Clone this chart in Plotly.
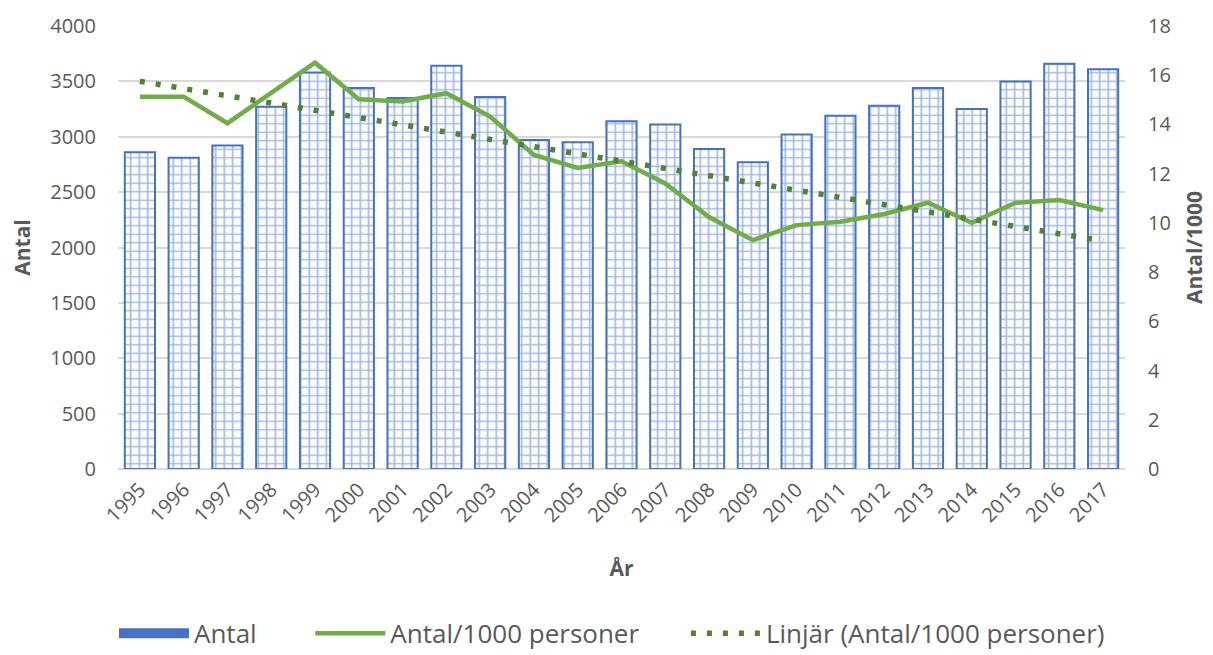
import numpy as np
import plotly.graph_objects as go

years = [str(y) for y in range(1995, 2018)]
antal = [2860, 2810, 2920, 3270, 3580, 3440, 3350, 3640, 3360, 2970, 2950, 3140,
         3110, 2890, 2770, 3020, 3190, 3280, 3440, 3250, 3500, 3660, 3610]
per1000 = [15.13, 15.13, 14.05, 15.3, 16.51, 15.02, 14.93, 15.27, 14.32, 12.76, 12.23, 12.5,
           11.6, 10.24, 9.3, 9.91, 10.05, 10.36, 10.82, 10.0, 10.82, 10.93, 10.52]

# Linear trendline (least squares), as in the original chart
xi = np.arange(1, len(per1000) + 1)
k, m = np.polyfit(xi, per1000, 1)
trend = (k * xi + m).tolist()

FONT = "Open Sans"
GREY = "#595959"
BLUE = "#4472C4"
GREEN = "#70AD47"
DKGREEN = "#548235"

fig = go.Figure()
fig.add_trace(go.Bar(
    x=years, y=antal, name="Antal", legendgroup="antal", showlegend=False,
    marker=dict(color="white", line=dict(color=BLUE, width=2),
                pattern=dict(shape="+", fgcolor=BLUE, bgcolor="white", size=8.5, solidity=0.35)),
))
# legend key for the bars (wide blue block, like the original's legend swatch)
fig.add_trace(go.Scatter(
    x=[None], y=[None], name="Antal", legendgroup="antal", legend="legend", mode="lines",
    line=dict(color=BLUE, width=13), hoverinfo="skip",
))
fig.add_trace(go.Scatter(
    x=years, y=per1000, name="Antal/1000 personer", yaxis="y2", mode="lines", legend="legend2",
    line=dict(color=GREEN, width=4.5),
))
fig.add_trace(go.Scatter(
    x=years, y=trend, name="Linjär (Antal/1000 personer)", yaxis="y2", mode="lines",
    legend="legend3",
    line=dict(color=DKGREEN, width=5.5, dash="5px,11px"),
))

LEG = dict(orientation="h", y=-0.318, yanchor="top", xanchor="left",
           font=dict(size=26, color=GREY), itemwidth=70, bgcolor="rgba(0,0,0,0)")

fig.update_layout(
    width=1203, height=645,
    margin=dict(l=110, r=86, t=18, b=184, autoexpand=False),
    paper_bgcolor="white", plot_bgcolor="white",
    font=dict(family=FONT, color=GREY, size=20),
    bargap=0.31,
    showlegend=True,
    legend=dict(LEG, x=-0.004),
    legend2=dict(LEG, x=0.191),
    legend3=dict(LEG, x=0.564),
    xaxis=dict(
        tickangle=-45, showgrid=False, showline=False, ticks="", automargin=False,
        tickfont=dict(size=20, color=GREY), ticklabelstandoff=4,
        title=dict(text="<b>År</b>", font=dict(size=21, color=GREY), standoff=34),
    ),
    yaxis=dict(
        range=[0, 4000], dtick=500, showgrid=True, gridcolor="#D9D9D9", gridwidth=1.5,
        zeroline=True, zerolinecolor="#D9D9D9", zerolinewidth=1.5, automargin=False,
        showline=False, ticks="", tickfont=dict(size=20, color=GREY),
        ticklabelstandoff=21,
        title=dict(text="<b>Antal</b>", font=dict(size=21, color=GREY), standoff=20),
    ),
    yaxis2=dict(
        range=[0, 18], dtick=2, overlaying="y", side="right", showgrid=False, automargin=False,
        zeroline=False, showline=False, ticks="", tickfont=dict(size=20, color=GREY),
        ticklabelstandoff=22,
        title=dict(text="<b>Antal/1000</b>", font=dict(size=21, color=GREY), standoff=16),
    ),
)

fig.write_html("out.html")
